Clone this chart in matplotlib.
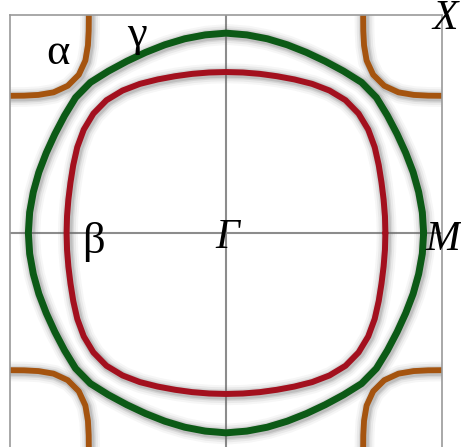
import matplotlib.pyplot as plt
import numpy as np

# pockets read off the picture as radius vs angle (deg) in the first quadrant,
# box is -1..1, the other quadrants follow by symmetry
angles = [0, 6, 12, 18, 24, 30, 36, 42, 48, 54, 60, 66, 72, 78, 84, 90]
gammaR = [0.915, 0.914, 0.912, 0.911, 0.911, 0.915, 0.924, 0.937,
          0.938, 0.926, 0.918, 0.915, 0.916, 0.919, 0.922, 0.925]
betaR = [0.738, 0.740, 0.746, 0.757, 0.774, 0.795, 0.814, 0.826,
         0.827, 0.815, 0.797, 0.778, 0.763, 0.753, 0.747, 0.745]

# alpha pocket around each zone corner
alphaAngles = [-6, 0, 10, 20, 30, 40, 50, 60, 70, 80, 90, 96]
alphaR = [0.366, 0.365, 0.370, 0.384, 0.403, 0.416, 0.416, 0.403,
          0.384, 0.370, 0.365, 0.366]

labels = ['X', 'Γ', 'M', 'α', 'β', 'γ']
labelX = [1.012, 0.005, 1.005, -0.778, -0.616, -0.412]
labelY = [0.99, -0.02, -0.03, 0.835, -0.04, 0.915]
labelSize = [30, 30, 30, 32, 32, 32]
labelItalic = [True, True, True, False, False, False]

green = '#0c5a16'
red = '#a3101e'
orange = '#a5540f'


def closedPocket(angs, radii):
    t = np.radians(angs)
    x = np.array(radii) * np.cos(t)
    y = np.array(radii) * np.sin(t)
    qx = np.concatenate([x, -x[::-1], -x, x[::-1]])
    qy = np.concatenate([y, y[::-1], -y, -y[::-1]])
    return qx, qy


def drawLine(ax, x, y, color, lw):
    # soft grey halo like the blurred original
    for w, a in [(lw + 10, 0.06), (lw + 7, 0.09), (lw + 4, 0.14), (lw + 2, 0.2)]:
        ax.plot(x + 0.006, y - 0.006, color='0.4', lw=w, alpha=a,
                solid_capstyle='round', solid_joinstyle='round')
    ax.plot(x, y, color=color, lw=lw, solid_capstyle='round',
            solid_joinstyle='round')


fig = plt.figure(figsize=(4.61, 4.47), dpi=100)
ax = fig.add_axes([10 / 461, -4 / 447, 432 / 461, 436 / 447])
ax.set_xlim(-1, 1)
ax.set_ylim(-1.009, 1.009)
ax.set_xticks([])
ax.set_yticks([])
for s in ax.spines.values():
    s.set_color('#9a9a9a')
    s.set_linewidth(1.2)

ax.axhline(0, color='#8c8c8c', lw=1.5, zorder=0)
ax.axvline(0, color='#8c8c8c', lw=1.5, zorder=0)

t = np.radians(alphaAngles)
dx = np.array(alphaR) * np.cos(t)
dy = np.array(alphaR) * np.sin(t)
for cx, cy in [(1, 1), (-1, 1), (-1, -1), (1, -1)]:
    drawLine(ax, cx - cx * dx, cy - cy * dy, orange, 4.2)

gx, gy = closedPocket(angles, gammaR)
drawLine(ax, gx, gy, green, 5.0)

bx, by = closedPocket(angles, betaR)
drawLine(ax, bx, by, red, 4.3)

for i in range(len(labels)):
    ax.text(labelX[i], labelY[i], labels[i], ha='center', va='center',
            fontsize=labelSize[i], family='Liberation Serif',
            style='italic' if labelItalic[i] else 'normal', clip_on=False)

fig.savefig('out.png', dpi=100)
